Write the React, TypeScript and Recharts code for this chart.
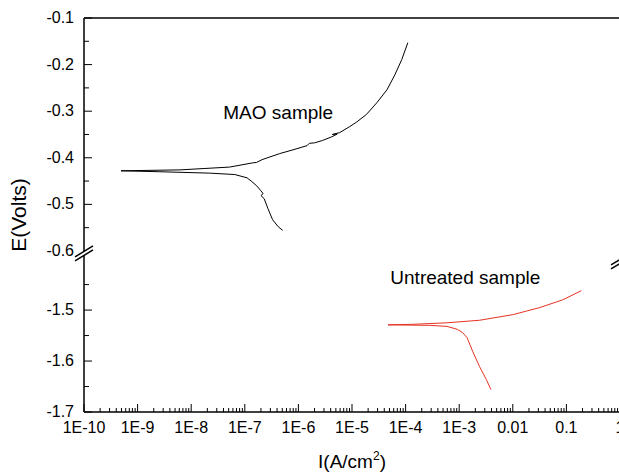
import { LineChart, Line, XAxis, YAxis, ReferenceDot } from 'recharts';

// MAO coated sample (black), E in volts, I in A/cm2
const maoAnodicI = [4.9e-10, 1.7e-9, 6.2e-9, 1.8e-8, 5.2e-8, 1.4e-7, 1.66e-7, 2.1e-7, 4.5e-7, 7.9e-7, 1.45e-6, 1.6e-6, 2.0e-6, 2.8e-6, 4.2e-6, 5.3e-6, 4.3e-6, 5.9e-6, 9.1e-6, 1.23e-5, 1.86e-5, 2.9e-5, 4.5e-5, 6.3e-5, 8.5e-5, 1.1e-4];
const maoAnodicE = [-0.428, -0.427, -0.426, -0.423, -0.42, -0.411, -0.41, -0.404, -0.391, -0.383, -0.374, -0.369, -0.368, -0.363, -0.355, -0.349, -0.35, -0.346, -0.333, -0.323, -0.307, -0.282, -0.254, -0.222, -0.189, -0.153];
const maoCathodicI = [4.9e-10, 2.6e-9, 2.2e-8, 6.5e-8, 1.1e-7, 1.35e-7, 1.66e-7, 2.0e-7, 2.2e-7, 2.0e-7, 2.3e-7, 2.7e-7, 3.3e-7, 4.2e-7, 5.1e-7];
const maoCathodicE = [-0.428, -0.43, -0.433, -0.436, -0.443, -0.451, -0.46, -0.471, -0.477, -0.481, -0.488, -0.509, -0.533, -0.548, -0.556];

// untreated sample (red)
const untreatedAnodicI = [4.7e-5, 1.3e-4, 5.9e-4, 2.4e-3, 0.01, 0.018, 0.032, 0.085, 0.19];
const untreatedAnodicE = [-1.529, -1.528, -1.525, -1.52, -1.509, -1.502, -1.495, -1.48, -1.462];
const untreatedCathodicI = [4.7e-5, 2.8e-4, 5.9e-4, 9.3e-4, 1.15e-3, 1.4e-3, 1.8e-3, 2.4e-3, 3.2e-3, 3.9e-3];
const untreatedCathodicE = [-1.529, -1.53, -1.532, -1.538, -1.544, -1.554, -1.582, -1.611, -1.636, -1.656];

const xDecades = [-10, -9, -8, -7, -6, -5, -4, -3, -2, -1, 0];
const xTickLabels = ['1E-10', '1E-9', '1E-8', '1E-7', '1E-6', '1E-5', '1E-4', '1E-3', '0.01', '0.1', '1'];
const yMajorTicks = [-0.1, -0.2, -0.3, -0.4, -0.5, -0.6, -1.5, -1.6, -1.7];
const yMinorTicks = [-0.15, -0.25, -0.35, -0.45, -0.55, -1.45, -1.55, -1.65];

const FONT = '"Liberation Sans", Arial, Helvetica, sans-serif';
const PLOT_W = 536;

// broken y axis: upper part -0.6..-0.1, lower part -1.7..-1.384 squeezed below it
const BREAK = -0.6;
const LOWER_TOP = -1.384;
const LOWER_SCALE = 1.094;
const toAxis = (v: number) => (v >= BREAK ? v : BREAK - (LOWER_TOP - v) * LOWER_SCALE);
const fromAxis = (t: number) => (t >= BREAK - 1e-9 ? t : LOWER_TOP - (BREAK - t) / LOWER_SCALE);

const branches = (aI: number[], aE: number[], cI: number[], cE: number[]) => [
  ...aI.map((i, k) => ({ i, e: toAxis(aE[k]) })).reverse(),
  ...cI.map((i, k) => ({ i, e: toAxis(cE[k]) })),
];
const maoData = branches(maoAnodicI, maoAnodicE, maoCathodicI, maoCathodicE);
const untreatedData = branches(untreatedAnodicI, untreatedAnodicE, untreatedCathodicI, untreatedCathodicE);

const xTicks = xDecades.flatMap(d =>
  d === 0 ? [1] : [1, 2, 3, 4, 5, 6, 7, 8, 9].map(m => m * Math.pow(10, d))
);
const yTicks = [...yMajorTicks, ...yMinorTicks].map(toAxis).sort((a, b) => a - b);

const isDecade = (v: number) => {
  const lg = Math.log10(v);
  return Math.abs(lg - Math.round(lg)) < 1e-6;
};

function BottomTick(props: any) {
  const { x, y, payload } = props;
  const major = isDecade(payload.value);
  const idx = xDecades.indexOf(Math.round(Math.log10(payload.value)));
  return (
    <g>
      <line x1={x} x2={x} y1={y} y2={y - (major ? 8 : 4)} stroke="#000" strokeWidth={1} />
      {major && (
        <text x={x} y={y + 21} textAnchor="middle" fontSize={16} fontFamily={FONT} fill="#000">
          {xTickLabels[idx]}
        </text>
      )}
    </g>
  );
}

function TopTick(props: any) {
  const { x, y, payload } = props;
  const major = isDecade(payload.value);
  return <line x1={x} x2={x} y1={y} y2={y + (major ? 3 : 2)} stroke="#000" strokeWidth={1} />;
}

function BreakMark({ x, y }: { x: number; y: number }) {
  return (
    <g>
      <polygon points={`${x - 9},${y + 3} ${x + 9},${y - 8} ${x + 9},${y - 4} ${x - 9},${y + 7}`} fill="#fff" />
      <line x1={x - 9} y1={y + 3} x2={x + 9} y2={y - 8} stroke="#000" strokeWidth={1.5} />
      <line x1={x - 9} y1={y + 7} x2={x + 9} y2={y - 4} stroke="#000" strokeWidth={1.5} />
    </g>
  );
}

function LeftTick(props: any) {
  const { x, y, payload } = props;
  const v = fromAxis(payload.value);
  const major = Math.abs(v * 10 - Math.round(v * 10)) < 1e-6;
  const isBreak = Math.abs(v - BREAK) < 1e-6;
  return (
    <g>
      {!isBreak && <line x1={x} x2={x + (major ? 8 : 5)} y1={y} y2={y} stroke="#000" strokeWidth={1} />}
      {isBreak && <BreakMark x={x} y={y + 3} />}
      {isBreak && <BreakMark x={x + PLOT_W} y={y + 11} />}
      {major && (
        <text x={x - 10} y={y + 5} textAnchor="end" fontSize={16} fontFamily={FONT} fill="#000">
          {v.toFixed(1)}
        </text>
      )}
    </g>
  );
}

function YTitle(props: any) {
  const { viewBox } = props;
  const cx = viewBox.x + 18;
  const cy = viewBox.y + viewBox.height / 2;
  return (
    <text x={cx} y={cy} transform={`rotate(-90, ${cx}, ${cy})`} textAnchor="middle" dominantBaseline="central"
      fontSize={21} fontFamily={FONT} fill="#000">
      E(Volts)
    </text>
  );
}

function XTitle(props: any) {
  const { viewBox } = props;
  const cx = viewBox.x + viewBox.width / 2;
  return (
    <text x={cx} y={viewBox.y + 56} textAnchor="middle" fontSize={19} fontFamily={FONT} fill="#000">
      I(A/cm<tspan dy={-8} fontSize={12}>2</tspan><tspan dy={8}>)</tspan>
    </text>
  );
}

export default function App() {
  return (
    <div style={{ position: 'absolute', left: 0, top: 0, width: 619, height: 473, overflow: 'hidden', background: '#fff' }}>
      <LineChart width={720} height={473} margin={{ top: 8, right: 100, bottom: 31, left: 0 }} style={{ fontFamily: FONT }}>
        <XAxis
          dataKey="i" type="number" scale="log" domain={[1e-10, 1]} allowDataOverflow
          ticks={xTicks} interval={0} tickSize={0} tickMargin={0} tick={<BottomTick />} tickLine={false}
          axisLine={{ stroke: '#000', strokeWidth: 1.5 }} height={30}
          label={<XTitle />}
        />
        <XAxis
          xAxisId="top" orientation="top" type="number" scale="log" domain={[1e-10, 1]} allowDataOverflow
          ticks={xTicks} interval={0} tickSize={0} tickMargin={0} tick={<TopTick />} tickLine={false}
          axisLine={{ stroke: '#000', strokeWidth: 1.5 }} height={10}
        />
        <YAxis
          type="number" domain={[toAxis(-1.7), -0.1]} allowDataOverflow ticks={yTicks} interval={0}
          tickSize={0} tickMargin={0} tick={<LeftTick />} tickLine={false}
          axisLine={{ stroke: '#000', strokeWidth: 1.5 }} width={84}
          label={<YTitle />}
        />
        <Line data={maoData} dataKey="e" type="linear" stroke="#000" strokeWidth={1} dot={false} isAnimationActive={false} />
        <Line data={untreatedData} dataKey="e" type="linear" stroke="#e63222" strokeWidth={1} dot={false} isAnimationActive={false} />
        <ReferenceDot x={4.2e-7} y={toAxis(-0.303)} r={0} fill="none" stroke="none"
          label={{ value: 'MAO sample', position: 'center', fontSize: 19, fill: '#000', fontFamily: FONT }} />
        <ReferenceDot x={1.3e-3} y={toAxis(-1.436)} r={0} fill="none" stroke="none"
          label={{ value: 'Untreated sample', position: 'center', fontSize: 19, fill: '#000', fontFamily: FONT }} />
      </LineChart>
    </div>
  );
}
